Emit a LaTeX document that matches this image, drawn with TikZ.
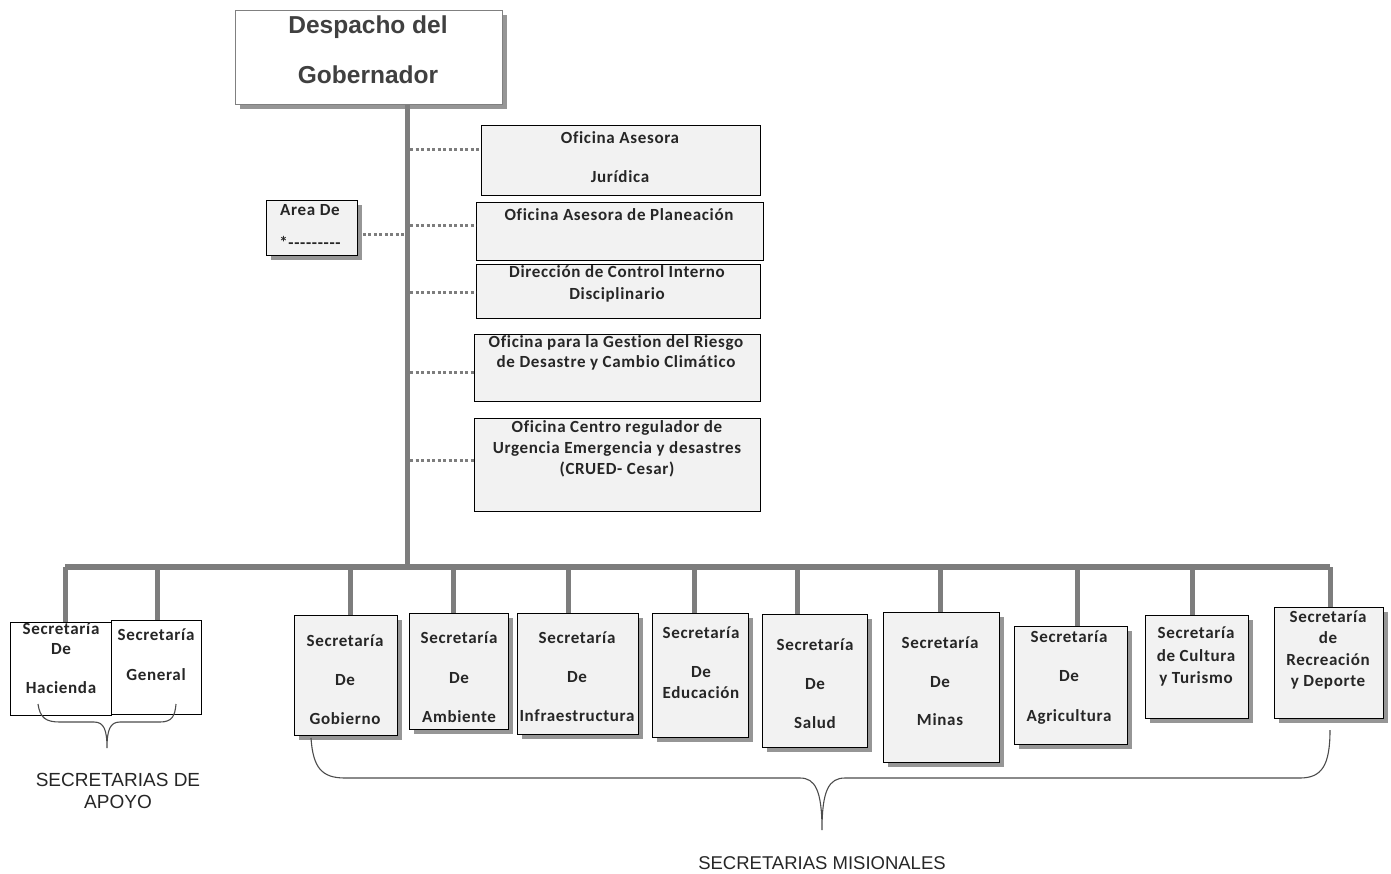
\documentclass[tikz,border=0pt]{standalone}
\usepackage{fontspec}
\setmainfont{Carlito}
\newfontfamily\boxf[LetterSpace=4, Ligatures={NoCommon}]{Carlito}
\newfontfamily\arialf{Liberation Sans}
\usetikzlibrary{calc,shadows}
\definecolor{conn}{RGB}{125,125,125}
\definecolor{boxfill}{RGB}{242,242,242}
\definecolor{shad}{RGB}{150,150,150}
\begin{document}
\begin{tikzpicture}[x=1pt,y=-1pt,
  box/.style={draw=black, line width=0.8pt, fill=boxfill, anchor=north west, inner sep=0pt},
  shbox/.style={box, drop shadow={shadow xshift=5pt, shadow yshift=-5pt, fill=shad, opacity=1}},
  wbox/.style={box, fill=white},
  txt/.style={font=\boxf\bfseries\fontsize{17}{#1}\selectfont, align=center, inner sep=0pt, text=black!85},
  trunk/.style={draw=conn, line width=5pt},
  dotc/.style={draw=conn, line width=3pt, dash pattern=on 3pt off 2.5pt},
  brace/.style={draw=black!70, line width=1.1pt},
  lab/.style={font=\arialf\fontsize{19}{22}\selectfont, align=center, inner sep=0pt, text=black!85}
]
\useasboundingbox (0,0) rectangle (1391,873);

% head
\node[shbox, fill=white, draw=black!50, minimum width=267pt, minimum height=94pt] (desp) at (235,10) {};
\node[font=\arialf\bfseries\fontsize{24.5}{50}\selectfont, align=center, inner sep=0pt, text=black!75] (despT) at (368,50) {Despacho del\\Gobernador};

% trunk coordinate
\coordinate (tk) at (407,567);
\draw[trunk] (tk |- desp.south) -- (tk);

% offices
\node[box, minimum width=279pt, minimum height=70pt] (jur) at (481,125) {};
\node[txt=39] (jurT) at (620,157.5) {Oficina Asesora\\Jurídica};
\node[box, minimum width=287pt, minimum height=58pt] (pla) at (476,202) {};
\node[txt=20] (plaT) at (619,215) {Oficina Asesora de Planeación};
\node[box, minimum width=284pt, minimum height=54pt] (dir) at (476,264) {};
\node[txt=22] (dirT) at (617,284) {Dirección de Control Interno\\Disciplinario};
\node[box, minimum width=286pt, minimum height=67pt] (rie) at (474,334) {};
\node[txt=20] (rieT) at (616,353) {Oficina para la Gestion del Riesgo\\de Desastre y Cambio Climático};
\node[box, minimum width=286pt, minimum height=93pt] (cru) at (474,418) {};
\node[txt=21] (cruT) at (617,449) {Oficina Centro regulador de\\Urgencia Emergencia y desastres\\(CRUED- Cesar)};

\node[shbox, minimum width=91pt, minimum height=55pt] (area) at (266,200) {};
\node[txt=33] (areaT) at (310,226) {Area De\\*-{}-{}-{}-{}-{}-{}-{}-{}-};

% dotted connectors
\coordinate (c1) at ($(jur.west)+(0,-11)$);
\draw[dotc] (c1 -| tk) ++(3,0) -- (c1);
\coordinate (c2) at ($(pla.west)+(0,-6)$);
\draw[dotc] (c2 -| tk) ++(3,0) -- (c2);
\coordinate (c3) at ($(dir.west)+(0,1)$);
\draw[dotc] (c3 -| tk) ++(3,0) -- (c3);
\coordinate (c4) at ($(rie.west)+(0,5)$);
\draw[dotc] (c4 -| tk) ++(3,0) -- (c4);
\coordinate (c5) at ($(cru.west)+(0,-4)$);
\draw[dotc] (c5 -| tk) ++(3,0) -- (c5);
\coordinate (c6) at ($(area.east)+(5,7)$);
\draw[dotc] (c6) -- (c6 -| tk);

% bottom boxes
\node[wbox, minimum width=101pt, minimum height=93pt] (hac) at (10,622) {};
\node[txt=20] (hacT) at (61,658.5) {Secretaría\\De\\[19pt]Hacienda};
\node[wbox, minimum width=90pt, minimum height=94pt] (gen) at (111,620) {};
\node[txt=40] (genT) at (156,655) {Secretaría\\General};

\node[shbox, minimum width=103pt, minimum height=120pt] (gob) at (294,615) {};
\node[txt=39] (gobT) at (345,680) {Secretaría\\De\\Gobierno};
\node[shbox, minimum width=99pt, minimum height=116pt] (amb) at (409,613) {};
\node[txt=39.5] (ambT) at (459,677.5) {Secretaría\\De\\Ambiente};
\node[shbox, minimum width=121pt, minimum height=121pt] (inf) at (517,613) {};
\node[txt=39] (infT) at (577,677) {Secretaría\\De\\Infraestructura};
\node[shbox, minimum width=96pt, minimum height=124pt] (edu) at (652,613) {};
\node[txt=21] (eduT) at (701,663) {Secretaría\\[18pt]De\\Educación};
\node[shbox, minimum width=105pt, minimum height=133pt] (sal) at (762,614) {};
\node[txt=39] (salT) at (815,684) {Secretaría\\De\\Salud};
\node[shbox, minimum width=116pt, minimum height=150pt] (min) at (883,612) {};
\node[txt=38.5] (minT) at (940,681.5) {Secretaría\\De\\Minas};
\node[shbox, minimum width=113pt, minimum height=118pt] (agr) at (1014,626) {};
\node[txt=39.5] (agrT) at (1069,677.5) {Secretaría\\De\\Agricultura};
\node[shbox, minimum width=103pt, minimum height=103pt] (cul) at (1145,615) {};
\node[txt=22.5] (culT) at (1196,656.5) {Secretaría\\de Cultura\\y Turismo};
\node[shbox, minimum width=109pt, minimum height=111pt] (rec) at (1274,607) {};
\node[txt=21.3] (recT) at (1328,650) {Secretaría\\de\\Recreación\\y Deporte};

% bar and drops
\draw[trunk, line width=6pt] ([xshift=4.5pt]hac.north |- tk) -- ([xshift=1.5pt]rec.north |- tk);
\foreach \n/\dx in {hac/4.5, gen/1, gob/4.5, amb/-5.5, inf/-9.5, edu/-6, sal/-17.5, min/-1, agr/6.5, cul/-4.5, rec/1.5}{
  \draw[trunk] ([xshift=\dx pt]\n.north) -- ([xshift=\dx pt]\n.north |- tk);
}

% braces
\draw[brace] (38,704) .. controls (40,718) and (46,722) .. (60,722) -- (94,722)
  .. controls (104,722) and (107,730) .. (107,748)
  .. controls (107,730) and (110,722) .. (120,722) -- (160,722)
  .. controls (172,722) and (175,716) .. (176,704);
\node[lab] (apoyo) at (118,791) {SECRETARIAS DE\\APOYO};

\draw[brace] (311,738) .. controls (313,768) and (322,778) .. (345,778) -- (800,778)
  .. controls (815,778) and (822,790) .. (822,830)
  .. controls (822,790) and (829,778) .. (845,778) -- (1300,778)
  .. controls (1322,778) and (1330,765) .. (1330,730);
\node[lab, font=\arialf\fontsize{18.5}{22}\selectfont] (mision) at (822,863) {SECRETARIAS MISIONALES};
\end{tikzpicture}
\end{document}
